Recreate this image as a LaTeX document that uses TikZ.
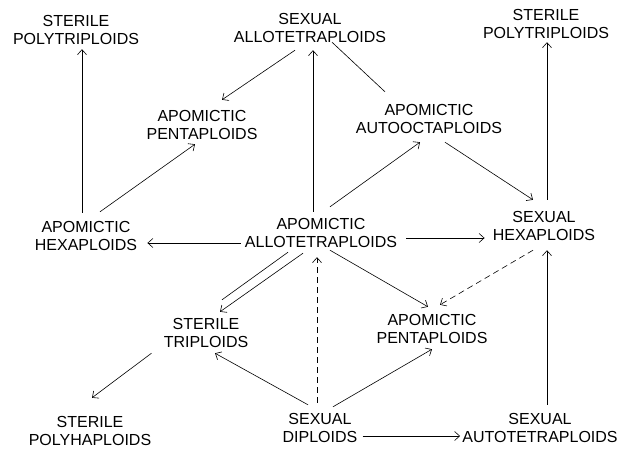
\documentclass[tikz,border=0pt]{standalone}
\usepackage{fontspec}
\setmainfont{Liberation Sans}
\usetikzlibrary{arrows.meta}

\begin{document}
\begin{tikzpicture}[x=1pt,y=-1pt,line width=0.6pt,>={Straight Barb[length=5pt,width=9pt]},
        ploid/.style={align=center,inner sep=2pt,font=\fontsize{16pt}{18.5pt}\selectfont},
        guess/.style={dash pattern=on 6pt off 4pt}]
        \useasboundingbox (0,0) rectangle (622,448);

        \node(spL) at (76,30) [ploid] {STERILE\\POLYTRIPLOIDS};
        \node(sa) at (310,28) [ploid] {SEXUAL\\ALLOTETRAPLOIDS};
        \node(spR) at (546,24) [ploid] {STERILE\\POLYTRIPLOIDS};

        \node(apTop) at (202,125) [ploid] {APOMICTIC\\PENTAPLOIDS};
        \node(aao) at (429,119) [ploid] {APOMICTIC\\AUTOOCTAPLOIDS};

        \node(ah) at (86,236) [ploid] {APOMICTIC\\HEXAPLOIDS};
        \node(aa) at (321,233) [ploid] {APOMICTIC\\ALLOTETRAPLOIDS};
        \node(sh) at (544,226) [ploid] {SEXUAL\\HEXAPLOIDS};

        \node(st) at (206,333) [ploid] {STERILE\\TRIPLOIDS};
        \node(apBot) at (432,329) [ploid] {APOMICTIC\\PENTAPLOIDS};

        \node(sph) at (90,431) [ploid] {STERILE\\POLYHAPLOIDS};
        \node(sd) at (320,428) [ploid] {SEXUAL\\DIPLOIDS};
        \node(sat) at (540,428) [ploid] {SEXUAL\\AUTOTETRAPLOIDS};

        % upper half
        \draw [->] ([xshift=-4pt,yshift=6pt]ah.north) -- ([xshift=-4pt,yshift=-2pt]ah.north |- spL.south);
        \draw [->] ([xshift=14pt,yshift=7pt]ah.north) -- ([xshift=-7pt,yshift=-2pt]apTop.south);
        \draw [->] ([xshift=-15pt,yshift=-5pt]sa.south) -- ([xshift=20pt,yshift=8pt]apTop.north);
        \draw [->] ([xshift=3pt,yshift=4pt]aa.north -| sa.south) -- ([xshift=3pt,yshift=-5pt]sa.south);
        \draw ([xshift=22pt,yshift=3pt]sa.south) -- ([xshift=-44pt,yshift=10pt]aao.north);
        \draw [->] ([xshift=9pt,yshift=9pt]aa.north) -- ([xshift=-9pt,yshift=-6pt]aao.south);
        \draw [->] ([xshift=16pt,yshift=-6pt]aao.south) -- ([xshift=-11pt,yshift=9pt]sh.north);
        \draw [->] ([xshift=3pt,yshift=9pt]sh.north) -- ([xshift=3pt,yshift=-1pt]sh.north |- spR.south);

        % middle row
        \draw [->] ([xshift=-2pt,yshift=-10pt]aa.west) -- ([xshift=8pt,yshift=-10pt]aa.west -| ah.east);
        \draw [->] ([xshift=7pt,yshift=-5pt]aa.east) -- ([xshift=-6pt,yshift=-5pt]aa.east -| sh.west);

        % lower half
        \draw ([xshift=-33pt,yshift=-2pt]aa.south) -- ([xshift=16pt,yshift=16pt]st.north);
        \draw [->] ([xshift=-18pt,yshift=-3pt]aa.south) -- ([xshift=14pt,yshift=4pt]st.north);
        \draw [->] ([xshift=9pt]aa.south) -- ([xshift=-4pt,yshift=5pt]apBot.north);
        \draw [->,guess] ([xshift=-11pt,yshift=-7pt]sh.south) -- ([xshift=8pt,yshift=7pt]apBot.north);
        \draw [->,guess] ([xshift=-3pt,yshift=8pt]sd.north) -- ([xshift=-3pt,yshift=-7pt]sd.north |- aa.south);
        \draw [->] ([xshift=-12pt,yshift=6pt]sd.north) -- ([xshift=9pt,yshift=-3pt]st.south);
        \draw [->] ([xshift=13pt,yshift=4pt]sd.north) -- ([yshift=-3pt]apBot.south);
        \draw [->] ([xshift=-10pt,yshift=-3pt]st.south west) -- ([xshift=2pt,yshift=16pt]sph.north);
        \draw [->] ([xshift=7pt,yshift=6pt]sat.north) -- ([xshift=7pt,yshift=-7pt]sat.north |- sh.south);
        \draw [->] ([xshift=3pt,yshift=-8pt]sd.east) -- ([yshift=-8pt]sd.east -| sat.west);
\end{tikzpicture}
\end{document}
